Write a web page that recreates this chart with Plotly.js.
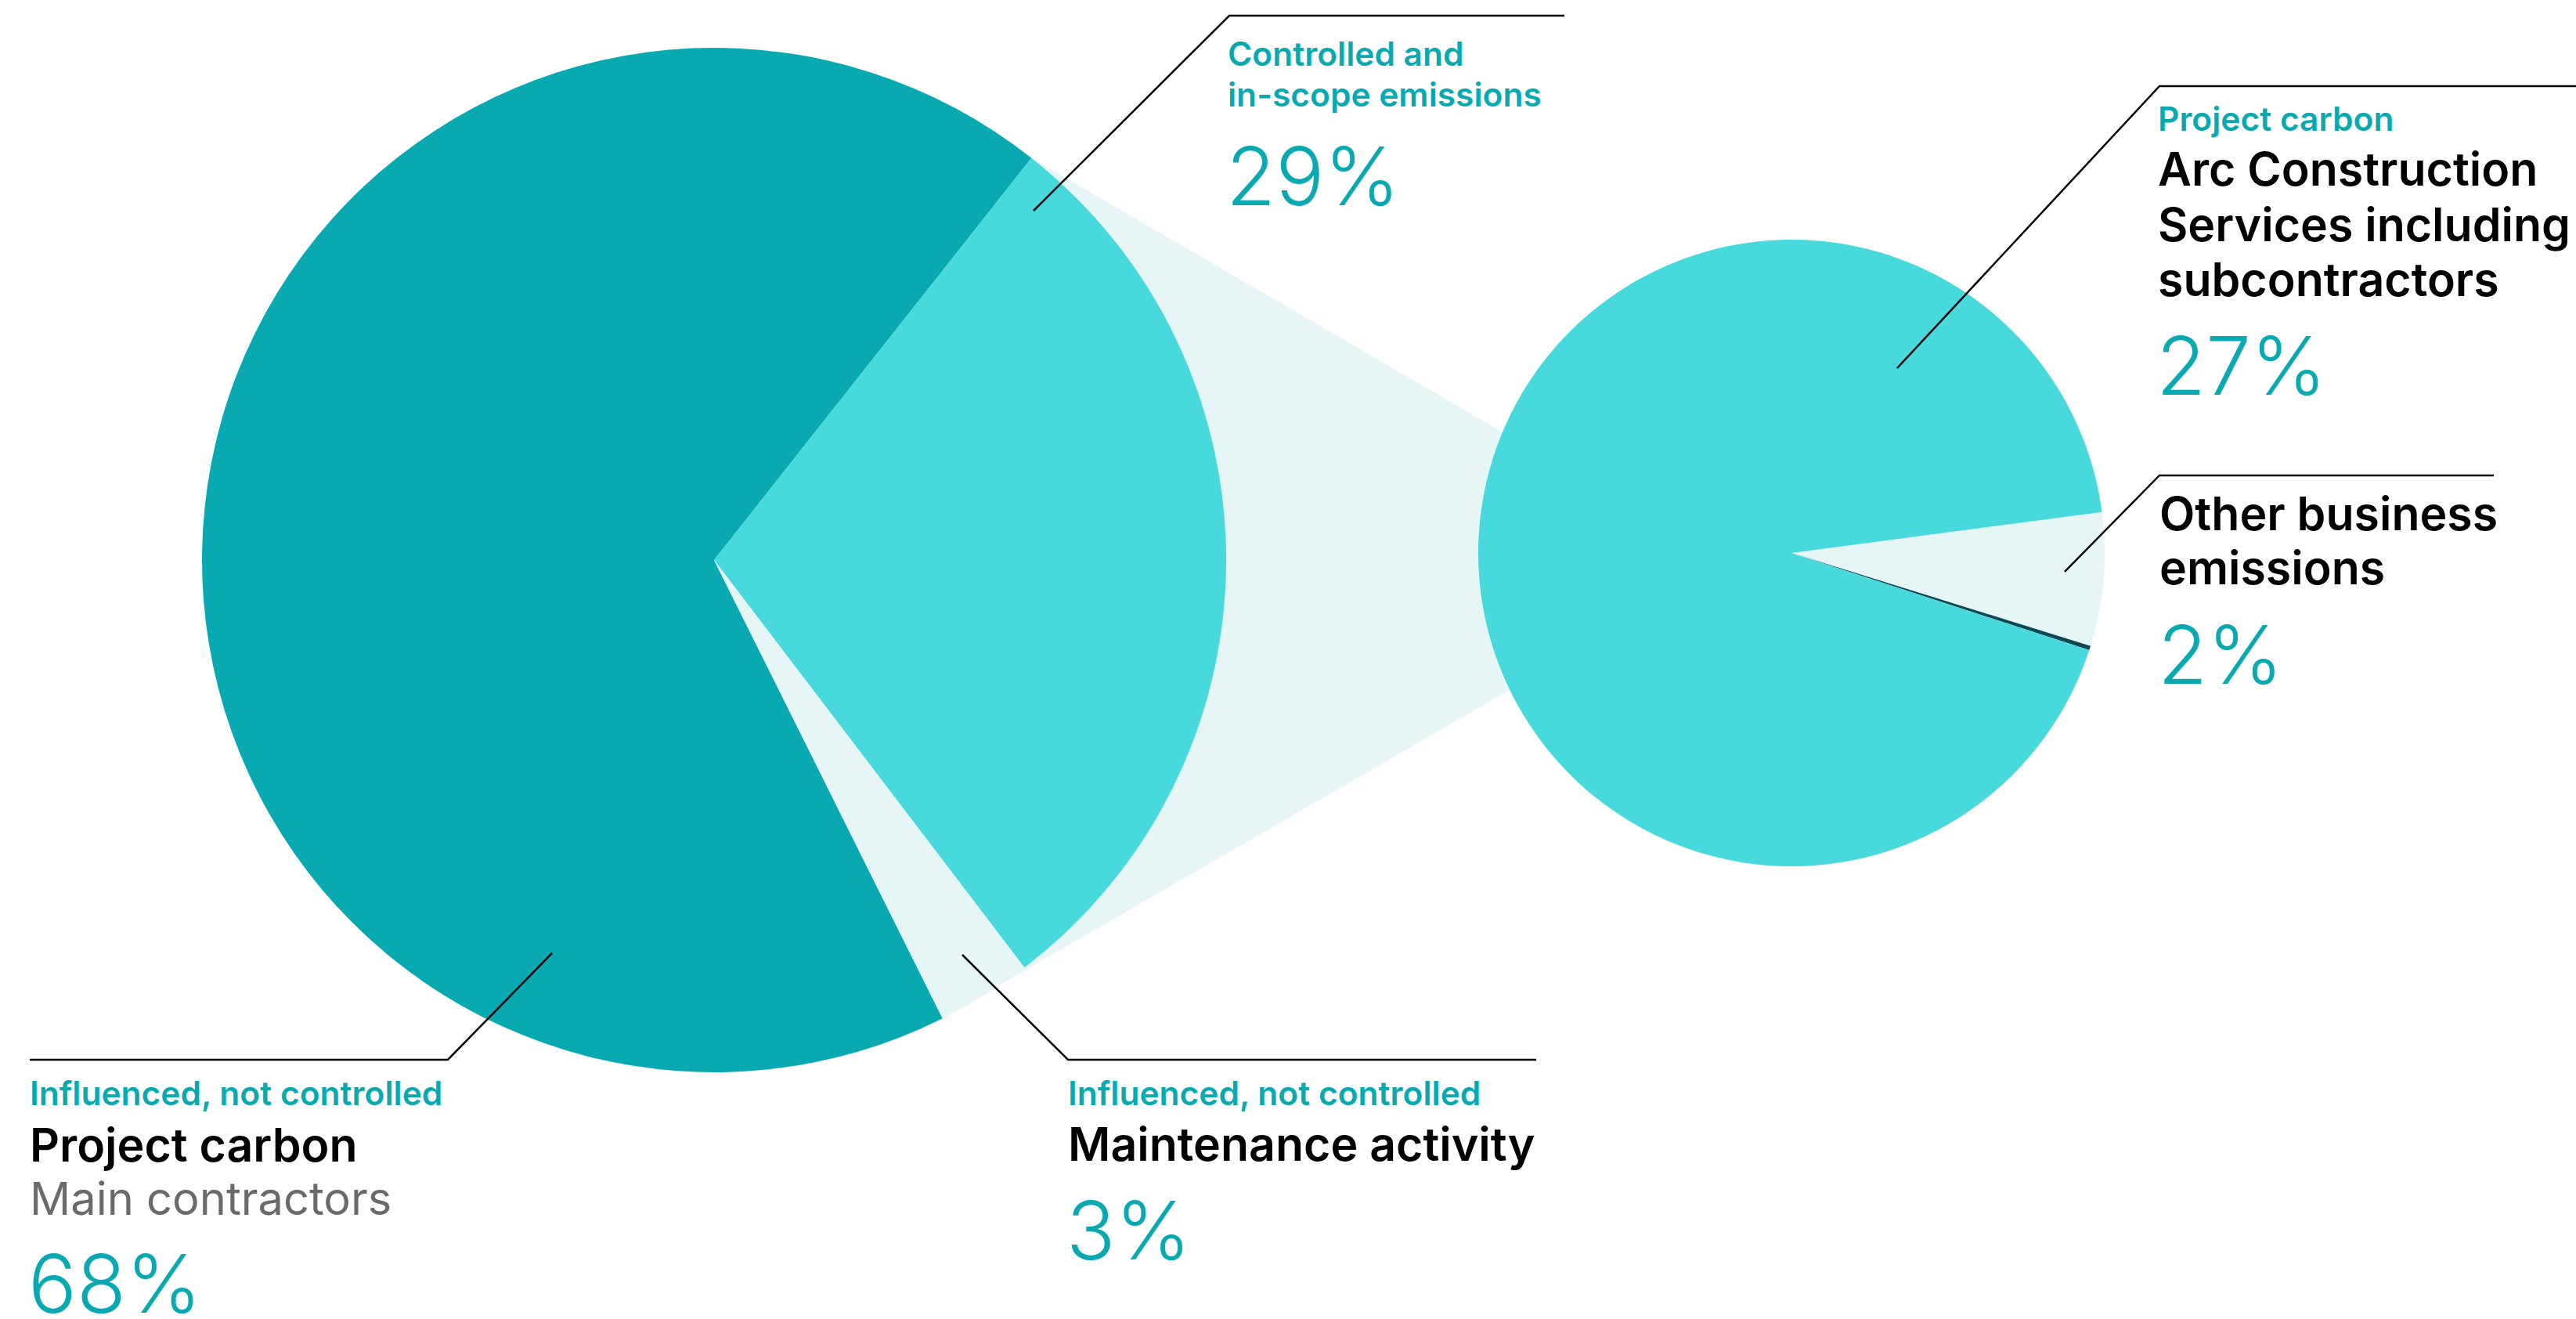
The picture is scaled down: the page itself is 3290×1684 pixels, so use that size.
<!DOCTYPE html>
<html><head><meta charset="utf-8">
<script src="https://cdn.plot.ly/plotly-3.0.1.min.js"></script>
<style>html,body{margin:0;padding:0;background:#fff}</style>
</head><body><div id="chart" style="width:3290px;height:1684px"></div>
<script>
// ---- data ----
const mainLabels = ["Project carbon (Main contractors)", "Controlled and in-scope emissions", "Maintenance activity"];
const mainValues = [68, 29, 3];
const subLabels = ["Other business emissions", "Unallocated", "Arc Construction Services including subcontractors"];
const subValues = [2, 0.065, 27];
const pctLabels = ["68%", "29%", "3%", "27%", "2%"];

// ---- style / layout constants ----
const W = 3290, H = 1684;
const TEAL = "#08A9B1", CYAN = "#47D9DC", PALE = "#E6F6F6", DARK = "#0B4A52";
const FONT = "Inter, 'Noto Sans', sans-serif";
const big = {cx: 912, cy: 715, r: 654, rot: 153.5};
const small = {cx: 2288, cy: 706, r: 400, rot: 82.5};

const fx = x => x / W, fy = y => 1 - y / H;
function dom(c) {
  return {x: [fx(c.cx - c.r), fx(c.cx + c.r)], y: [fy(c.cy + c.r), fy(c.cy - c.r)]};
}
function pt(c, deg, f) {
  const a = deg * Math.PI / 180, rr = c.r * (f === undefined ? 1 : f);
  return [c.cx + rr * Math.sin(a), c.cy - rr * Math.cos(a)];
}

// angle where the "Controlled" slice starts (derived from data)
const mainTotal = mainValues.reduce((a, b) => a + b, 0);
const cyanStart = big.rot + 360 * mainValues[0] / mainTotal - 360;
const cyanEnd = cyanStart + 360 * mainValues[1] / mainTotal;

const traces = [
  {type: "pie", labels: mainLabels, values: mainValues, sort: false, direction: "clockwise",
   rotation: big.rot, domain: dom(big), textinfo: "none", hoverinfo: "label+percent",
   marker: {colors: [TEAL, CYAN, PALE], line: {width: 0}}, showlegend: false},
  {type: "pie", labels: subLabels, values: subValues, sort: false, direction: "clockwise",
   rotation: small.rot, domain: dom(small), textinfo: "none", hoverinfo: "label",
   marker: {colors: [PALE, DARK, CYAN], line: {width: 0}}, showlegend: false}
];

// connector band between the two pies
const ul = pt(big, cyanStart), ll = pt(big, cyanEnd + 3);
const ur = pt(small, 292.7), lr = pt(small, 244.1);
const toP = p => fx(p[0]).toFixed(5) + "," + fy(p[1]).toFixed(5);
const shapes = [{
  type: "path", xref: "paper", yref: "paper", layer: "below",
  path: "M" + toP(ul) + " L" + toP(ur) + " L" + toP(lr) + " L" + toP(ll) + " L" + toP([big.cx, big.cy]) + " Z",
  fillcolor: PALE, line: {width: 0}
}];

// leader lines
const leaders = [
  [[705, 1217], [572, 1353], [38, 1353]],
  [[1229, 1219], [1364, 1353], [1962, 1353]],
  [[1320, 269], [1570, 20], [1998, 20]],
  [[2423, 470], [2758, 110], [3290, 110]],
  [[2637, 730], [2758, 607], [3185, 607]]
];
leaders.forEach(l => shapes.push({
  type: "path", xref: "paper", yref: "paper", layer: "above",
  path: "M" + toP(l[0]) + " L" + toP(l[1]) + " L" + toP(l[2]),
  line: {color: "#000", width: 2.5}
}));

const annotations = [];
function ann(text, x, yc, size, color, weight) {
  annotations.push({text: text, x: fx(x), y: fy(yc), xref: "paper", yref: "paper",
    xanchor: "left", yanchor: "middle", showarrow: false, align: "left",
    font: {family: FONT, size: size, color: color, weight: weight}});
}
const S1 = 42.5, S2 = 59, SG = 57.8, S3 = 103;
// bottom left
ann("Influenced, not controlled", 36, 1395, S1, TEAL, 600);
ann("Project carbon", 36, 1461, S2, "#000", 600);
ann("Main contractors", 36, 1530, SG, "#6A6A6A", 400);
ann(pctLabels[0], 34, 1638, S3, TEAL, 300);
// maintenance
ann("Influenced, not controlled", 1362, 1395, S1, TEAL, 600);
ann("Maintenance activity", 1362, 1460, S2, "#000", 600);
ann(pctLabels[2], 1360, 1570, S3, TEAL, 300);
// controlled
ann("Controlled and", 1566, 68, S1, TEAL, 600);
ann("in-scope emissions", 1566, 120, S1, TEAL, 600);
ann(pctLabels[1], 1564, 224, S3, TEAL, 300);
// arc
ann("Project carbon", 2754, 151, S1, TEAL, 600);
ann("Arc Construction", 2754, 216, S2, "#000", 600);
ann("Services including", 2754, 286, S2, "#000", 600);
ann("subcontractors", 2754, 356, S2, "#000", 600);
ann(pctLabels[3], 2752, 467, S3, TEAL, 300);
// other
ann("Other business", 2756, 655, S2, "#000", 600);
ann("emissions", 2756, 725, S2, "#000", 600);
ann(pctLabels[4], 2754, 835, S3, TEAL, 300);

Plotly.newPlot("chart", traces, {
  width: W, height: H, margin: {l: 0, r: 0, t: 0, b: 0},
  paper_bgcolor: "#fff", plot_bgcolor: "#fff",
  shapes: shapes, annotations: annotations, showlegend: false
}, {displayModeBar: false, staticPlot: true});
</script></body></html>
